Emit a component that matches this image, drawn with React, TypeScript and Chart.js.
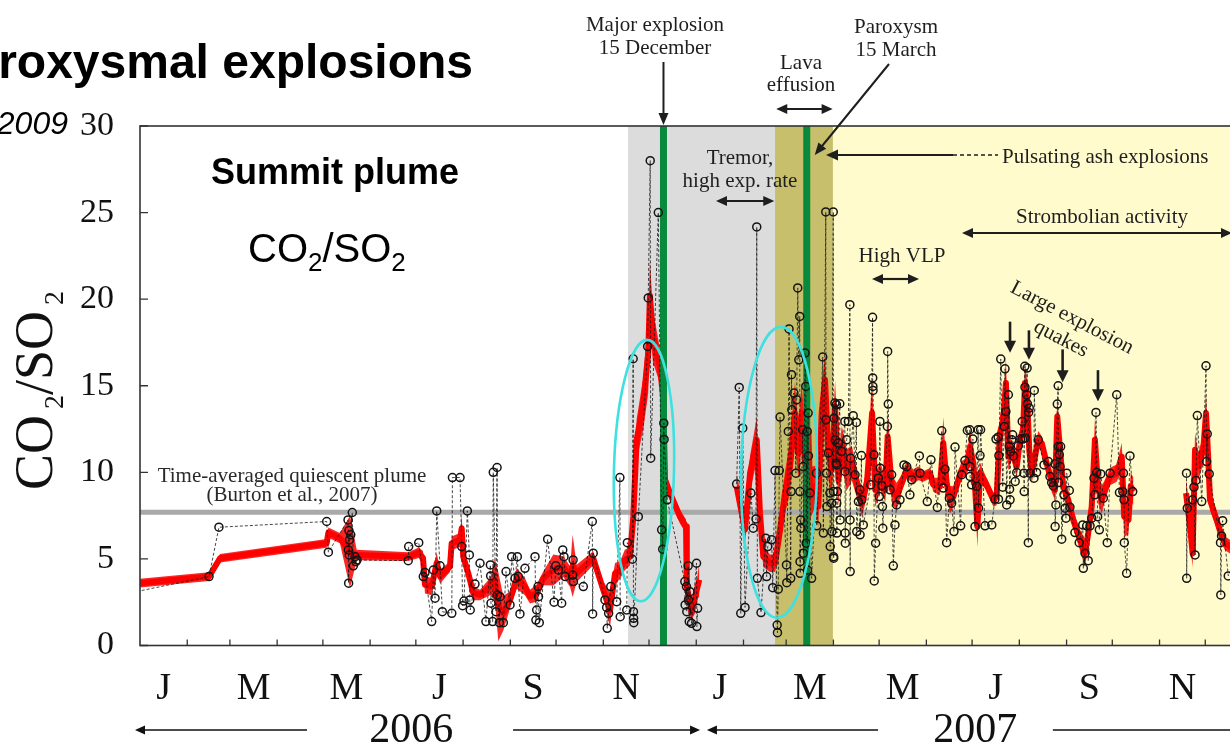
import { useEffect, useRef } from "react";
import { Chart, registerables } from "chart.js";

Chart.register(...registerables);

// Time axis: days counted from 1 January 2006.
const monthLengths = [31, 28, 31, 30, 31, 30, 31, 31, 30, 31, 30, 31, 31, 28, 31, 30, 31, 30, 31, 31, 30, 31, 30, 31];
const monthLetters = ["J", "M", "M", "J", "S", "N", "J", "M", "M", "J", "S", "N"];
const yearLabels = ["2006", "2007"];
const yearCentreDays = [178, 548];
const yTickValues = [0, 5, 10, 15, 20, 25, 30];

// Activity phases: boundaries (days) of grey, olive and yellow shading.
const phaseBounds = [320.2, 416.7, 454.7, 730];
// Major explosion (15 Dec 2006) and paroxysm (15 Mar 2007) markers.
const eventDays = [343.5, 437.5];
const quiescentLevel = 7.7;
const quakeDays = [570.9, 583.3, 605.4, 628.6];

// Individual CO2/SO2 measurements [day, ratio]; null breaks the series.
const rawSamples: [number, number | null][] = [
  [-8.5, 3.0], [45.3, 3.98], [51.8, 6.83], [122.5, 7.16], [123.6, 5.39],
  [136.5, 7.25], [136.7, 5.52], [136.9, 3.6], [137.1, 6.64], [137.3, 5.23], [137.5, 6.1], [138.3, 6.39],
  [139.3, 7.68], [140.0, 4.6], [141.1, 5.13], [141.7, 4.84], [142.4, 4.94],
  [176.0, 4.9], [176.3, 5.71], [182.9, 5.94], [185.9, 3.98], [187.0, 4.21], [191.4, 1.38], [192.5, 4.36],
  [193.6, 2.73], [194.7, 7.77], [196.9, 4.6], [198.4, 1.95], [204.6, 1.86], [205.0, 9.7], [210.0, 9.7],
  [211.1, 5.71], [211.7, 2.3], [212.6, 2.57], [214.8, 7.77], [216.1, 5.23], [216.4, 2.63], [216.7, 2.05],
  [219.8, 3.55], [223.1, 4.75], [227.0, 1.38], [229.9, 4.65], [230.1, 4.02], [230.3, 2.44], [231.4, 1.38],
  [231.8, 10.0], [233.6, 1.95], [234.3, 10.28], [234.5, 2.92], [235.8, 1.32], [236.2, 2.82], [238.4, 1.32],
  [240.2, 4.27], [242.8, 2.34], [243.9, 5.13], [246.1, 3.88], [247.6, 5.13], [248.2, 3.98], [249.3, 1.82],
  [252.6, 4.46], [259.2, 5.13], [259.8, 1.47], [260.3, 2.05], [261.2, 3.4], [261.5, 2.82], [262.0, 1.32],
  [267.5, 6.14], [271.7, 2.5], [272.8, 4.6], [274.5, 4.36], [276.7, 2.44], [277.4, 5.52], [278.2, 5.13],
  [278.9, 3.98], [283.9, 4.07], [284.2, 4.94], [284.4, 3.69], [290.9, 3.4], [296.8, 7.16], [297.0, 1.82],
  [297.4, 5.33], [305.1, 2.63], [306.2, 2.2], [306.6, 0.99], [307.5, 1.86], [308.9, 3.4], [312.8, 2.53],
  [314.9, 9.7], [315.1, 1.66], [319.4, 2.05], [319.8, 5.94], [323.1, 4.98], [323.6, 16.56], [323.8, 1.95],
  [323.9, 1.57], [324.0, 1.32], [327.0, 7.44], [333.1, 17.27], [333.5, 20.07], [334.8, 28.0], [335.1, 10.82],
  [340.1, 25.0], [342.3, 6.68], [343.0, 5.56], [343.7, 12.84], [343.9, 11.9], [346.0, 8.41],
  [357.5, 3.69], [357.7, 2.34], [358.6, 3.4], [358.8, 1.95], [359.7, 4.6], [359.9, 2.63], [360.4, 1.38],
  [360.9, 3.11], [361.9, 1.28], [365.2, 4.75], [365.4, 1.09], [365.9, 2.15],
  [380, null],
  [391.5, 9.32], [393.2, 14.9], [394.2, 1.86], [395.5, 12.55], [397.0, 2.2], [400.9, 8.8], [402.4, 6.77],
  [404.2, 7.31], [404.7, 24.17], [405.1, 3.88], [407.5, 1.9], [410.6, 6.2], [411.2, 3.98], [411.9, 5.71],
  [414.5, 6.1], [415.2, 3.34], [416.7, 10.1], [418.1, 1.18], [418.3, 0.74], [418.8, 3.25], [419.5, 10.1],
  [420.0, 13.19], [424.2, 4.65], [424.4, 3.63], [425.4, 12.36], [425.9, 18.28], [427.0, 3.88], [427.2, 8.89],
  [427.5, 15.64], [427.7, 13.61], [429.1, 14.58], [430.4, 9.95], [430.9, 14.19], [431.6, 20.65], [432.3, 16.5],
  [432.9, 19.0], [433.0, 8.89], [433.1, 4.84], [433.2, 4.17], [433.5, 7.25], [433.7, 6.77], [434.8, 12.46],
  [435.1, 10.33], [435.3, 5.33], [436.4, 16.89], [436.9, 14.96], [437.1, 5.91], [437.8, 12.36], [438.0, 4.36],
  [438.4, 13.42], [438.6, 10.95], [439.6, 8.8], [440.7, 3.88], [443.9, 9.95], [444.1, 6.91], [448.0, 16.66],
  [448.4, 6.49], [450.0, 25.04], [450.1, 13.03], [450.5, 9.95], [450.7, 8.02], [451.7, 11.11], [452.7, 8.8],
  [452.9, 5.71], [453.8, 8.22], [454.0, 6.58], [454.9, 25.04], [455.0, 8.89], [455.1, 5.13], [455.2, 5.04],
  [455.4, 13.13], [456.0, 14.0], [456.2, 11.88], [456.7, 10.53], [457.0, 13.9], [457.1, 10.43], [457.2, 8.22],
  [457.3, 6.49], [457.6, 8.89], [458.2, 11.69], [459.2, 13.96], [459.4, 7.25], [460.4, 11.2], [462.5, 12.94],
  [462.6, 10.05], [462.7, 6.49], [462.8, 5.91], [463.7, 11.88], [464.8, 12.94], [465.8, 19.68], [465.9, 7.25],
  [466.0, 4.27], [466.3, 10.82], [468.0, 13.27], [469.2, 9.86], [470.1, 12.88], [470.3, 6.58], [471.4, 8.31],
  [472.3, 8.99], [472.5, 6.39], [473.4, 10.97], [473.6, 8.41], [474.6, 6.96], [479.5, 9.28], [480.7, 18.95],
  [480.8, 15.45], [480.9, 14.96], [481.0, 14.73], [481.6, 11.01], [481.8, 3.73], [482.7, 5.91], [484.5, 9.66],
  [485.1, 8.6], [485.5, 12.94], [485.7, 10.24], [486.7, 9.22], [487.2, 8.02], [487.4, 6.77], [490.4, 12.65],
  [490.6, 16.98], [491.0, 13.94], [492.1, 8.99], [493.2, 9.86], [494.3, 4.6], [495.4, 6.96], [496.5, 8.12],
  [498.7, 8.41], [501.3, 10.43], [503.1, 10.33], [505.2, 8.7], [506.4, 9.57], [511.4, 10.95], [511.8, 9.95],
  [516.6, 8.31], [519.0, 10.72], [523.2, 7.97], [526.1, 12.4], [527.1, 9.09], [528.2, 10.18], [529.3, 5.94],
  [531.1, 8.51], [532.6, 8.22], [534.1, 6.58], [534.8, 11.46], [538.5, 6.91], [539.2, 9.86], [541.3, 10.68],
  [542.9, 12.42], [544.5, 12.46], [544.6, 10.33], [544.7, 9.76], [545.7, 9.28], [546.5, 11.92], [547.9, 6.87],
  [549.0, 9.2], [550.0, 12.46], [550.2, 7.94], [551.2, 10.97], [551.6, 12.46], [554.5, 6.91], [558.9, 6.96],
  [561.0, 8.45], [561.7, 11.92], [563.1, 12.03], [563.3, 8.45], [563.6, 10.97], [564.8, 16.54], [566.1, 9.14],
  [567.1, 12.65], [567.6, 15.98], [568.2, 13.51], [568.7, 8.12], [569.8, 14.48], [570.4, 11.49], [570.6, 9.03],
  [570.9, 8.41], [571.3, 11.2], [572.0, 11.88], [572.6, 12.17], [573.1, 10.95], [574.3, 9.47], [575.3, 9.99],
  [576.3, 11.53], [577.9, 11.92], [578.9, 12.94], [579.2, 11.92], [580.0, 9.95], [580.2, 8.89], [580.6, 16.12],
  [580.7, 14.92], [580.8, 11.98], [581.8, 14.48], [582.1, 16.02], [582.3, 13.96], [582.9, 5.94], [583.1, 13.46],
  [583.5, 13.71], [584.0, 9.95], [586.6, 9.66], [586.8, 14.73], [588.3, 9.99], [589.4, 11.88], [593.2, 10.43],
  [596.0, 10.62], [597.1, 9.76], [598.2, 9.41], [599.3, 9.22], [600.3, 10.49], [600.5, 6.87], [601.0, 8.12],
  [601.9, 13.94], [602.5, 15.0], [602.6, 11.49], [602.7, 9.41], [603.2, 11.01], [603.7, 10.33], [604.1, 11.49],
  [604.8, 6.14], [606.3, 8.7], [607.0, 7.93], [607.6, 7.35], [608.1, 9.95], [609.8, 8.95], [610.2, 7.99],
  [613.5, 6.52], [616.3, 5.94], [618.6, 6.96], [619.0, 4.46], [620.1, 5.33], [621.2, 6.91], [622.2, 4.9],
  [623.4, 6.91], [624.5, 7.35], [626.0, 9.66], [626.6, 8.7], [627.3, 13.46], [627.8, 9.99], [628.4, 7.44],
  [629.5, 6.68], [630.4, 9.91], [632.1, 8.51], [634.7, 5.94], [636.5, 9.95], [640.9, 14.48], [642.7, 8.83],
  [644.9, 8.89], [645.3, 9.95], [645.7, 8.41], [645.9, 5.94], [647.4, 4.17], [649.6, 10.95], [651.4, 8.89],
  [668, null],
  [686.7, 9.95], [686.8, 3.88], [687.2, 7.93], [690.7, 8.41], [691.6, 9.14], [692.3, 5.23], [692.9, 9.53],
  [693.8, 13.28], [696.7, 8.31], [699.5, 16.15], [699.9, 10.62], [700.3, 12.22], [701.6, 9.91], [709.0, 5.94],
  [709.2, 2.92], [709.7, 6.33], [710.4, 7.21], [714.1, 4.02], [721.8, 4.9],
];

// Running mean of the ratio [day, mean, half-width of the envelope].
const trendSamples: [number, number | null, number][] = [
  [-8.5, 3.55, 0.25], [0, 3.6, 0.25], [45.3, 3.98, 0.25], [52.5, 5.04, 0.25], [122.5, 5.9, 0.25],
  [123.6, 6.52, 0.3], [131.2, 6.2, 0.3], [137.8, 5.4, 2.1], [142.2, 5.23, 0.3], [176.1, 5.13, 0.25],
  [182.9, 5.36, 0.3], [185.7, 5.06, 0.4], [187.0, 3.5, 0.5], [191.4, 3.4, 0.5], [194.7, 4.77, 0.6],
  [196.9, 3.98, 0.4], [203.4, 4.55, 0.3], [204.5, 5.9, 0.4], [210.0, 6.1, 0.4], [211.1, 6.77, 0.8],
  [212.1, 5.13, 0.5], [215.4, 4.17, 0.4], [218.7, 3.02, 0.4], [223.1, 2.92, 0.3], [229.7, 3.4, 0.5],
  [232.9, 3.79, 1.2], [235.1, 2.24, 2.0], [238.4, 1.86, 1.0], [242.8, 2.63, 0.5], [247.2, 3.88, 0.6],
  [252.6, 3.4, 0.5], [255.9, 2.82, 0.4], [260.3, 3.02, 0.5], [264.6, 3.88, 0.4], [271.2, 4.36, 0.9],
  [277.8, 4.55, 0.6], [282.2, 3.98, 0.6], [283.9, 4.6, 1.8], [286.5, 4.17, 0.5], [297.4, 5.04, 0.4],
  [304.0, 3.21, 0.5], [308.4, 2.05, 1.0], [311.7, 4.17, 0.6], [315.0, 4.36, 0.5], [318.2, 4.94, 0.6],
  [321.5, 5.13, 0.5], [323.7, 7.44, 1.0], [325.9, 11.88, 1.2], [330.3, 14.0, 1.5], [333.5, 16.9, 2.3],
  [334.6, 20.2, 2.0], [336.6, 17.86, 1.5], [341.2, 16.12, 1.0], [343.4, 14.2, 1.0], [344.5, 9.57, 0.6],
  [347.8, 8.8, 0.4], [354.3, 7.44, 0.4], [358.3, 6.87, 0.4], [358.8, 3.4, 0.5], [362.0, 1.86, 0.6],
  [365.3, 3.21, 0.5], [367.0, 3.8, 1.0],
  [380, null, 0],
  [391.5, 9.18, 0.8], [397.0, 6.68, 0.8], [400.3, 9.95, 1.0], [404.7, 11.88, 1.3], [406.8, 7.64, 0.8],
  [409.0, 5.13, 0.6], [413.4, 4.75, 0.5], [416.7, 4.75, 0.5], [420.0, 6.68, 1.0], [423.2, 8.8, 1.2],
  [426.5, 10.33, 1.5], [429.8, 13.42, 1.8], [432.0, 11.11, 1.5], [434.2, 13.42, 1.8], [436.4, 10.53, 1.8],
  [438.6, 12.27, 1.8], [439.7, 8.8, 1.5], [443.0, 9.18, 1.2], [445.1, 8.02, 1.2], [447.3, 13.42, 1.5],
  [449.5, 15.35, 1.5], [451.7, 11.11, 1.5], [453.9, 10.15, 1.5], [456.1, 13.8, 1.5], [458.3, 9.57, 1.5],
  [460.5, 11.49, 1.2], [463.8, 10.15, 1.2], [467.1, 10.53, 1.0], [471.5, 8.99, 0.8], [473.7, 8.22, 0.8],
  [477.0, 9.38, 0.8], [480.4, 13.42, 2.2], [482.5, 8.99, 1.0], [485.8, 9.76, 0.8], [489.1, 8.99, 0.7],
  [490.6, 12.07, 1.5], [493.5, 8.99, 0.8], [496.5, 8.6, 0.8], [499.8, 9.38, 0.5], [503.1, 10.15, 0.5],
  [507.4, 9.76, 0.4], [510.7, 9.95, 0.4], [514.0, 9.76, 0.3], [518.4, 9.95, 0.3], [520.5, 9.28, 0.4],
  [524.9, 9.18, 0.5], [527.1, 11.69, 1.5], [529.3, 9.38, 0.8], [531.5, 8.41, 0.8], [533.7, 8.6, 0.6],
  [537.0, 9.57, 0.5], [539.2, 10.15, 0.5], [542.5, 10.33, 0.5], [544.6, 11.49, 1.0], [546.8, 10.53, 0.6],
  [547.9, 9.18, 0.8], [549.5, 6.87, 1.2], [551.2, 9.95, 0.6], [554.5, 9.47, 0.4], [560.0, 8.41, 0.4],
  [562.1, 8.6, 0.5], [564.3, 12.27, 1.0], [566.5, 13.03, 1.0], [568.2, 15.16, 1.5], [569.8, 10.91, 0.8],
  [572.0, 11.3, 0.6], [575.3, 10.33, 0.6], [577.4, 11.88, 0.6], [579.5, 12.46, 0.8], [580.7, 15.16, 1.2],
  [582.2, 14.19, 1.0], [583.5, 11.3, 0.8], [585.1, 9.95, 0.6], [587.3, 10.91, 0.5], [589.4, 11.88, 0.5],
  [591.7, 11.69, 0.4], [594.9, 10.53, 0.5], [598.2, 9.47, 0.6], [600.4, 8.99, 0.6], [601.9, 13.22, 1.2],
  [603.7, 11.3, 0.8], [605.8, 9.18, 0.6], [609.1, 8.41, 0.6], [612.4, 7.25, 0.5], [616.8, 6.1, 0.6],
  [620.1, 5.33, 0.8], [622.2, 6.49, 0.8], [624.5, 8.02, 0.8], [626.6, 11.88, 1.2], [628.8, 8.99, 0.8],
  [631.1, 8.41, 0.8], [633.2, 8.99, 0.6], [636.5, 9.76, 0.5], [640.9, 9.95, 0.5], [644.2, 10.91, 0.8],
  [645.8, 7.44, 1.2], [648.6, 7.25, 0.8], [650.1, 9.18, 0.8], [651.9, 8.89, 0.8],
  [668, null, 0],
  [686.4, 8.8, 0.8], [689.0, 6.87, 1.0], [690.7, 5.33, 0.8], [692.3, 11.3, 1.0], [694.4, 10.33, 0.8],
  [697.7, 11.3, 0.8], [699.5, 13.42, 1.2], [701.0, 10.72, 0.8], [702.1, 8.41, 0.6], [706.5, 7.25, 0.5],
  [709.1, 6.49, 0.5], [711.9, 5.91, 0.4], [715.2, 5.71, 0.4], [725.0, 5.4, 0.3],
];

const SERIF = "'Liberation Serif', 'Times New Roman', serif";
const SANS = "'Liberation Sans', Arial, sans-serif";

const monthStarts: number[] = [];
monthLengths.reduce((acc, len) => {
  monthStarts.push(acc);
  return acc + len;
}, 0);
const labelDays = monthStarts
  .map((start, i) => start + monthLengths[i] / 2)
  .filter((_, i) => i % 2 === 0);

type Ctx = CanvasRenderingContext2D;

function head(ctx: Ctx, tx: number, ty: number, ux: number, uy: number, len: number, half: number) {
  const bx = tx - ux * len;
  const by = ty - uy * len;
  ctx.beginPath();
  ctx.moveTo(tx, ty);
  ctx.lineTo(bx - uy * half, by + ux * half);
  ctx.lineTo(bx + uy * half, by - ux * half);
  ctx.closePath();
  ctx.fill();
}

function arrow(ctx: Ctx, x1: number, y1: number, x2: number, y2: number, both: boolean, w = 2.2, len = 11, half = 5) {
  const l = Math.hypot(x2 - x1, y2 - y1);
  const ux = (x2 - x1) / l;
  const uy = (y2 - y1) / l;
  ctx.lineWidth = w;
  ctx.beginPath();
  ctx.moveTo(both ? x1 + ux * (len - 2) : x1, both ? y1 + uy * (len - 2) : y1);
  ctx.lineTo(x2 - ux * (len - 2), y2 - uy * (len - 2));
  ctx.stroke();
  head(ctx, x2, y2, ux, uy, len, half);
  if (both) head(ctx, x1, y1, -ux, -uy, len, half);
}

function text(ctx: Ctx, s: string, x: number, y: number, font: string, align: CanvasTextAlign = "center") {
  ctx.font = font;
  ctx.textAlign = align;
  ctx.fillText(s, x, y);
}

const decor = {
  id: "decor",
  beforeDatasetsDraw(chart: Chart) {
    const { ctx, chartArea: a } = chart;
    const x = chart.scales.x;
    const y = chart.scales.y;
    const colours = ["#dcdcdc", "#c7bf6c", "#fffbcc"];
    ctx.save();
    for (let i = 0; i < colours.length; i++) {
      const x0 = Math.max(x.getPixelForValue(phaseBounds[i]), a.left);
      const x1 = Math.min(x.getPixelForValue(phaseBounds[i + 1]), a.right);
      ctx.fillStyle = colours[i];
      ctx.fillRect(x0, a.top, x1 - x0, a.bottom - a.top);
    }
    const yq = y.getPixelForValue(quiescentLevel);
    ctx.strokeStyle = "#a9a9a9";
    ctx.lineWidth = 5;
    ctx.beginPath();
    ctx.moveTo(a.left, yq);
    ctx.lineTo(a.right, yq);
    ctx.stroke();
    ctx.restore();
  },
  afterDatasetDraw(chart: Chart, args: { index: number }) {
    if (args.index !== 1) return;
    const { ctx, chartArea: a } = chart;
    const x = chart.scales.x;
    ctx.save();
    ctx.fillStyle = "#088a3c";
    for (const d of eventDays) {
      const px = x.getPixelForValue(d);
      ctx.fillRect(px - 3.5, a.top, 7, a.bottom - a.top);
    }
    ctx.restore();
  },
  afterDraw(chart: Chart) {
    const { ctx, chartArea: a } = chart;
    const x = chart.scales.x;
    const y = chart.scales.y;
    ctx.save();

    // frame and inward ticks
    ctx.strokeStyle = "#333";
    ctx.lineWidth = 1.6;
    ctx.strokeRect(a.left, a.top, a.right - a.left, a.bottom - a.top);
    ctx.lineWidth = 1.3;
    ctx.beginPath();
    for (const v of yTickValues) {
      const py = y.getPixelForValue(v);
      ctx.moveTo(a.left, py);
      ctx.lineTo(a.left + 8, py);
    }
    for (const d of monthStarts) {
      if (d <= 0) continue;
      const px = x.getPixelForValue(d);
      ctx.moveTo(px, a.bottom);
      ctx.lineTo(px, a.bottom - 6);
    }
    ctx.stroke();

    // highlighted episodes
    ctx.strokeStyle = "#3fe0e0";
    ctx.lineWidth = 2.6;
    const ellipses: [number, number, number, number, number][] = [
      [330.7, 10.1, 19.7, 7.55, 0.025],
      [419.3, 10.0, 24.9, 8.4, 0.015],
    ];
    const ppd = x.getPixelForValue(1) - x.getPixelForValue(0);
    const ppu = y.getPixelForValue(0) - y.getPixelForValue(1);
    for (const [d, v, rd, rv, rot] of ellipses) {
      ctx.beginPath();
      ctx.ellipse(x.getPixelForValue(d), y.getPixelForValue(v), rd * ppd, rv * ppu, rot, 0, Math.PI * 2);
      ctx.stroke();
    }

    // annotations
    ctx.fillStyle = "#1e1e1e";
    ctx.strokeStyle = "#1e1e1e";
    ctx.textBaseline = "alphabetic";
    const f21 = `21px ${SERIF}`;
    const ex1 = x.getPixelForValue(eventDays[0]);
    const ex2 = x.getPixelForValue(eventDays[1]);
    text(ctx, "Major explosion", 655, 31, f21);
    text(ctx, "15 December", 655, 54, f21);
    arrow(ctx, ex1, 62, ex1, 125, false, 2, 12, 5);
    text(ctx, "Paroxysm", 896, 33, f21);
    text(ctx, "15 March", 896, 56, f21);
    arrow(ctx, 889, 64, ex2 + 8, 155, false, 2, 12, 5);
    text(ctx, "Lava", 801, 69, f21);
    text(ctx, "effusion", 801, 91, f21);
    arrow(ctx, x.getPixelForValue(417.5), 109, x.getPixelForValue(454.5), 109, true);
    text(ctx, "Tremor,", 740, 164, f21);
    text(ctx, "high exp. rate", 740, 187, f21);
    arrow(ctx, 716, 201, x.getPixelForValue(416.2), 201, true);
    arrow(ctx, 953, 155, 826, 155, false, 2, 12, 5.5);
    ctx.setLineDash([4, 3]);
    ctx.lineWidth = 1.6;
    ctx.beginPath();
    ctx.moveTo(953, 155);
    ctx.lineTo(998, 155);
    ctx.stroke();
    ctx.setLineDash([]);
    text(ctx, "Pulsating ash explosions", 1002, 163, f21, "left");
    text(ctx, "Strombolian activity", 1102, 223, f21);
    arrow(ctx, 962, 233, 1232, 233, true);
    text(ctx, "High VLP", 902, 262, f21);
    arrow(ctx, 872, 279, 919, 279, true);

    ctx.save();
    const ang = (27.5 * Math.PI) / 180;
    ctx.textBaseline = "middle";
    ctx.translate(1072, 318);
    ctx.rotate(ang);
    text(ctx, "Large explosion", 0, 0, f21);
    ctx.restore();
    ctx.save();
    ctx.textBaseline = "middle";
    ctx.translate(1061, 339);
    ctx.rotate(ang);
    text(ctx, "quakes", 0, 0, f21);
    ctx.restore();

    const quakeTops = [18.7, 18.2, 17.1, 15.9];
    const quakeTips = [16.9, 16.5, 15.2, 14.1];
    quakeDays.forEach((d, i) => {
      const px = x.getPixelForValue(d);
      arrow(ctx, px, y.getPixelForValue(quakeTops[i]), px, y.getPixelForValue(quakeTips[i]), false, 2.6, 12, 6);
    });

    ctx.fillStyle = "#2a2a2a";
    text(ctx, "Time-averaged quiescent plume", 292, 482, f21);
    text(ctx, "(Burton et al., 2007)", 292, 501, f21);

    // inset labels
    ctx.fillStyle = "#000";
    text(ctx, "Summit plume", 335, 184, `bold 36px ${SANS}`);
    {
      let cx = 248;
      const seg = (s: string, font: string, dy: number) => {
        ctx.font = font;
        ctx.textAlign = "left";
        ctx.fillText(s, cx, 262 + dy);
        cx += ctx.measureText(s).width;
      };
      seg("CO", `40px ${SANS}`, 0);
      seg("2", `26px ${SANS}`, 9);
      seg("/SO", `40px ${SANS}`, 0);
      seg("2", `26px ${SANS}`, 9);
    }

    // heading and source
    text(ctx, "Paroxysmal explosions", 473, 78, `bold 48px ${SANS}`, "right");
    text(ctx, "Aiuppa et al., 2009", 68, 134, `italic 32px ${SANS}`, "right");

    // vertical axis title
    ctx.save();
    ctx.translate(52, 490);
    ctx.rotate(-Math.PI / 2);
    ctx.fillStyle = "#111";
    {
      let cx = 0;
      const seg = (s: string, font: string, dy: number) => {
        ctx.font = font;
        ctx.textAlign = "left";
        ctx.fillText(s, cx, dy);
        cx += ctx.measureText(s).width;
      };
      seg("CO", `54px ${SERIF}`, 0);
      cx += 6;
      seg("2", `28px ${SERIF}`, 11);
      seg("/SO", `54px ${SERIF}`, 0);
      cx += 6;
      seg("2", `28px ${SERIF}`, 11);
    }
    ctx.restore();

    // year row
    ctx.fillStyle = "#111";
    ctx.strokeStyle = "#111";
    const yr = 730;
    yearLabels.forEach((s, i) => text(ctx, s, x.getPixelForValue(yearCentreDays[i]), 742, `42px ${SERIF}`));
    const yearArrows: [number, number][] = [
      [109.6, -3.3],
      [244.8, 367.5],
      [484.3, 372],
      [599, 742],
    ];
    for (const [from, to] of yearArrows) {
      arrow(ctx, x.getPixelForValue(from), yr, x.getPixelForValue(to), yr, false, 1.5, 10, 4.5);
    }

    ctx.restore();
  },
};

export default function App() {
  const ref = useRef<HTMLCanvasElement>(null);

  useEffect(() => {
    if (!ref.current) return;
    const chart = new Chart(ref.current, {
      type: "line",
      data: {
        datasets: [
          {
            label: "samples",
            data: rawSamples.map(([d, v]) => ({ x: d, y: v })),
            borderColor: "rgba(25,25,25,0.8)",
            borderWidth: 1,
            borderDash: [3, 2],
            pointRadius: 4,
            pointBorderWidth: 1.5,
            pointBorderColor: "#141414",
            pointBackgroundColor: "rgba(0,0,0,0)",
            fill: false,
            spanGaps: false,
            tension: 0,
            order: 0,
          },
          {
            label: "trend",
            data: trendSamples.map(([d, v]) => ({ x: d, y: v })),
            borderColor: "#ff0000",
            borderWidth: 6,
            borderJoinStyle: "round",
            pointRadius: 0,
            fill: false,
            spanGaps: false,
            tension: 0,
            order: 1,
          },
          {
            label: "upper",
            data: trendSamples.map(([d, v, s]) => ({ x: d, y: v === null ? null : v + s })),
            borderColor: "rgba(0,0,0,0)",
            borderWidth: 1,
            pointRadius: 0,
            backgroundColor: "rgba(250,0,0,0.85)",
            fill: "+1",
            spanGaps: false,
            tension: 0,
            order: 2,
          },
          {
            label: "lower",
            data: trendSamples.map(([d, v, s]) => ({ x: d, y: v === null ? null : v - s })),
            borderColor: "rgba(0,0,0,0)",
            borderWidth: 1,
            pointRadius: 0,
            fill: false,
            spanGaps: false,
            tension: 0,
            order: 3,
          },
        ],
      },
      options: {
        animation: false,
        responsive: false,
        maintainAspectRatio: false,
        layout: { padding: { top: 126, right: 9.5, left: 0, bottom: 0 } },
        plugins: { legend: { display: false }, tooltip: { enabled: false } },
        scales: {
          x: {
            type: "linear",
            min: 0,
            max: 730,
            grid: { display: false },
            border: { display: false },
            afterBuildTicks: (axis: any) => {
              axis.ticks = labelDays.map((v) => ({ value: v }));
            },
            afterFit: (axis: any) => {
              axis.height = 99.5;
            },
            ticks: {
              autoSkip: false,
              maxRotation: 0,
              minRotation: 0,
              padding: 13,
              color: "#111",
              font: { family: SERIF, size: 38 },
              callback: (_v: any, i: number) => monthLetters[i] ?? "",
            },
          },
          y: {
            min: 0,
            max: 30,
            grid: { display: false },
            border: { display: false },
            afterBuildTicks: (axis: any) => {
              axis.ticks = yTickValues.map((v) => ({ value: v }));
            },
            afterFit: (axis: any) => {
              axis.width = 140;
            },
            ticks: {
              padding: 18,
              color: "#111",
              font: { family: SERIF, size: 34 },
            },
          },
        },
      },
      plugins: [decor as any],
    });
    return () => chart.destroy();
  }, []);

  return (
    <div
      style={{
        position: "fixed",
        left: 0,
        top: 0,
        width: 1230,
        height: 745,
        overflow: "hidden",
        background: "#fff",
      }}
    >
      <canvas ref={ref} width={1262} height={745} style={{ width: 1262, height: 745, display: "block" }} />
    </div>
  );
}
